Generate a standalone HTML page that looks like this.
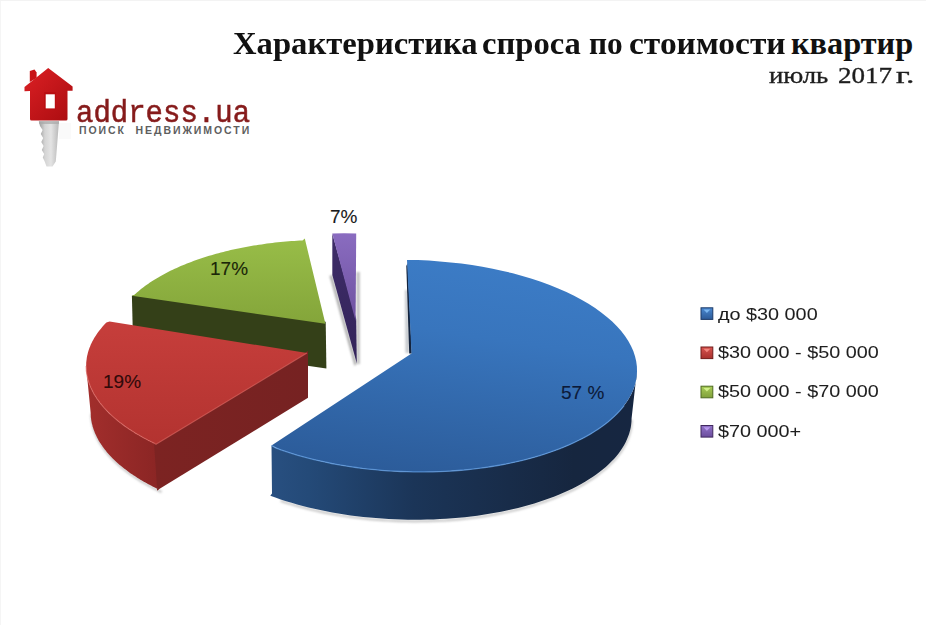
<!DOCTYPE html>
<html><head><meta charset="utf-8">
<style>
html,body{margin:0;padding:0;background:#fff;}
body{width:926px;height:625px;position:relative;overflow:hidden;font-family:"Liberation Sans",sans-serif;}
.abs{position:absolute;white-space:nowrap;}
.ttl{font-family:"Liberation Serif",serif;font-weight:bold;font-size:32.3px;color:#111;top:24.8px;transform-origin:0 0;}
.sub{font-family:"Liberation Serif",serif;font-size:23.6px;color:#1e1e1e;-webkit-text-stroke:0.35px #1e1e1e;top:62.3px;transform-origin:0 0;}
#logo-t{font-family:"Liberation Mono",monospace;font-weight:normal;-webkit-text-stroke:0.5px #861b1b;font-size:29px;color:#861b1b;left:76px;top:95.5px;transform:scaleY(1.1);transform-origin:0 0;}
#logo-s{font-family:"Liberation Sans",sans-serif;font-weight:bold;font-size:10.5px;color:#5e5e5e;left:79px;top:124px;letter-spacing:1.93px;}
.lab{font-size:19px;color:#1a1a1a;-webkit-text-stroke:0.3px currentColor;}
.leg{font-size:16.8px;color:#1e1e1e;-webkit-text-stroke:0.05px #1e1e1e;left:717.5px;letter-spacing:0px;transform:scaleX(1.18);transform-origin:0 0;}
.sw{position:absolute;left:700.5px;width:12px;height:12.5px;box-sizing:border-box;border:1px solid rgba(0,0,0,0.35);}
</style></head><body>
<svg class="abs" style="left:0;top:0" width="926" height="625" viewBox="0 0 926 625">

<defs>
 <filter id="blur1" x="-50%" y="-10%" width="200%" height="120%"><feGaussianBlur stdDeviation="1.2"/></filter>
 <filter id="blur2" x="-10%" y="-10%" width="120%" height="120%"><feGaussianBlur stdDeviation="1.3"/></filter>
 <linearGradient id="gBlueTop" x1="0.6" y1="0" x2="0.35" y2="1">
  <stop offset="0" stop-color="#3c7cc6"/><stop offset="0.35" stop-color="#3875bd"/><stop offset="1" stop-color="#2c5c9a"/>
 </linearGradient>
 <linearGradient id="gBlueRim" x1="272" y1="0" x2="635" y2="0" gradientUnits="userSpaceOnUse">
  <stop offset="0" stop-color="#284f80"/><stop offset="0.1" stop-color="#244a78"/><stop offset="0.39" stop-color="#1b3558"/><stop offset="0.83" stop-color="#16263f"/><stop offset="1" stop-color="#162641"/>
 </linearGradient>
 <linearGradient id="gRedTop" x1="0" y1="0" x2="0" y2="1">
  <stop offset="0" stop-color="#c63e3b"/><stop offset="1" stop-color="#b33330"/>
 </linearGradient>
 <linearGradient id="gRedRim" x1="87" y1="0" x2="160" y2="0" gradientUnits="userSpaceOnUse">
  <stop offset="0" stop-color="#a22e2c"/><stop offset="1" stop-color="#8a2524"/>
 </linearGradient>
 <linearGradient id="gRedCut" x1="157" y1="0" x2="308" y2="0" gradientUnits="userSpaceOnUse">
  <stop offset="0" stop-color="#7c2322"/><stop offset="1" stop-color="#762222"/>
 </linearGradient>
 <linearGradient id="gPurpleCut" x1="0" y1="0" x2="0" y2="1">
  <stop offset="0" stop-color="#3e2c68"/><stop offset="1" stop-color="#33245a"/>
 </linearGradient>
 <linearGradient id="gGreenTop" x1="0" y1="0" x2="0" y2="1">
  <stop offset="0" stop-color="#98bd48"/><stop offset="1" stop-color="#84a53a"/>
 </linearGradient>
 <linearGradient id="gPurpleTop" x1="0" y1="0" x2="0" y2="1">
  <stop offset="0" stop-color="#8a6cc0"/><stop offset="1" stop-color="#6e52a0"/>
 </linearGradient>
</defs>
<polygon points="131.9,295.7 137.9,294.5 325.7,321.8 326.4,368.4 133.0,340.5" fill="#344018" />
<polygon points="131.9,295.7 134.4,294.8 135.6,293.7 136.9,292.5 138.2,291.4 139.6,290.3 141.0,289.1 142.4,288.0 143.8,286.9 145.3,285.8 146.8,284.7 148.4,283.7 149.9,282.6 151.5,281.5 153.1,280.5 154.8,279.5 156.5,278.4 158.2,277.4 159.9,276.4 161.7,275.4 163.5,274.4 165.3,273.5 167.1,272.5 169.0,271.6 170.9,270.6 172.8,269.7 174.7,268.8 176.7,267.9 178.7,267.0 180.7,266.1 182.8,265.2 184.8,264.4 186.9,263.5 189.1,262.7 191.2,261.9 193.4,261.1 195.5,260.3 197.7,259.5 200.0,258.8 202.2,258.0 204.5,257.3 206.8,256.6 209.1,255.8 211.4,255.2 213.8,254.5 216.1,253.8 218.5,253.2 220.9,252.5 223.4,251.9 225.8,251.3 228.3,250.7 230.7,250.1 233.2,249.6 235.7,249.0 238.3,248.5 240.8,248.0 243.3,247.4 245.9,247.0 248.5,246.5 251.1,246.0 253.7,245.6 256.3,245.2 259.0,244.8 261.6,244.4 264.3,244.0 266.9,243.6 269.6,243.3 272.3,242.9 275.0,242.6 277.7,242.3 280.5,242.0 283.2,241.8 285.9,241.5 288.7,241.3 291.4,241.1 294.2,240.9 296.9,240.7 299.7,240.5 302.5,240.4 304.8,238.6 325.4,323.8" fill="url(#gGreenTop)" />
<polygon points="329.5,276.0 332.3,275.0 356.8,363.4 354.5,366.0" fill="#b0b0b0" filter="url(#blur1)"/>
<polygon points="356.5,272.0 359.8,272.0 359.8,364.0 356.8,364.0" fill="#c0c0c0" filter="url(#blur1)"/>
<polygon points="332.3,233.5 356.2,319.0 356.8,363.4 332.3,275.0" fill="url(#gPurpleCut)" />
<polygon points="332.3,233.5 344.0,233.2 356.2,233.5 355.6,321.0" fill="url(#gPurpleTop)" />
<polyline points="91.4,413.8 91.5,414.9 91.5,416.0 91.6,417.1 91.6,418.2 91.7,419.2 91.9,420.3 92.0,421.4 92.2,422.5 92.4,423.6 92.6,424.7 92.9,425.8 93.2,426.8 93.4,427.9 93.8,429.0 94.1,430.1 94.5,431.2 94.9,432.2 95.3,433.3 95.7,434.4 96.2,435.5 96.7,436.5 97.2,437.6 97.7,438.7 98.3,439.8 98.8,440.8 99.4,441.9 100.0,442.9 100.7,444.0 101.4,445.0 102.0,446.1 102.8,447.1 103.5,448.2 104.3,449.2 105.0,450.3 105.8,451.3 106.7,452.3 107.5,453.4 108.4,454.4 109.3,455.4 110.2,456.4 111.1,457.4 112.1,458.5 113.0,459.5 114.0,460.5 115.1,461.5 116.1,462.4 117.2,463.4 118.3,464.4 119.4,465.4 120.5,466.4 121.6,467.3 122.8,468.3 124.0,469.2 125.2,470.2 126.4,471.1 127.7,472.1 128.9,473.0 130.2,474.0 131.5,474.9 132.9,475.8 134.2,476.7 135.6,477.6 137.0,478.5 138.4,479.4 139.8,480.3 141.2,481.2 142.7,482.0 144.2,482.9 145.7,483.8 147.2,484.6 148.7,485.5 150.3,486.3 151.8,487.1 153.4,488.0 155.0,488.8 156.6,489.6 158.3,490.4 159.9,491.2 161.6,492.0" fill="none" stroke="#a0a0a0" stroke-width="2.2" stroke-opacity="0.6" stroke-linejoin="round" filter="url(#blur2)"/>
<polygon points="86.1,366.0 86.2,367.1 86.2,368.2 86.3,369.3 86.3,370.4 86.4,371.4 86.6,372.5 86.7,373.6 86.9,374.7 87.1,375.8 87.3,376.9 87.6,378.0 87.9,379.0 88.1,380.1 88.5,381.2 88.8,382.3 89.2,383.4 89.6,384.4 90.0,385.5 90.4,386.6 90.9,387.7 91.4,388.7 91.9,389.8 92.4,390.9 93.0,392.0 93.5,393.0 94.1,394.1 94.7,395.1 95.4,396.2 96.1,397.2 96.7,398.3 97.5,399.3 98.2,400.4 99.0,401.4 99.7,402.5 100.5,403.5 101.4,404.5 102.2,405.6 103.1,406.6 104.0,407.6 104.9,408.6 105.8,409.6 106.8,410.7 107.7,411.7 108.7,412.7 109.8,413.7 110.8,414.6 111.9,415.6 113.0,416.6 114.1,417.6 115.2,418.6 116.3,419.5 117.5,420.5 118.7,421.4 119.9,422.4 121.1,423.3 122.4,424.3 123.6,425.2 124.9,426.2 126.2,427.1 127.6,428.0 128.9,428.9 130.3,429.8 131.7,430.7 133.1,431.6 134.5,432.5 135.9,433.4 137.4,434.2 138.9,435.1 140.4,436.0 141.9,436.8 143.4,437.7 145.0,438.5 146.5,439.3 148.1,440.2 149.7,441.0 151.3,441.8 153.0,442.6 154.6,443.4 157.0,444.3 157.0,490.6 159.1,489.7 157.5,488.9 155.8,488.1 154.2,487.3 152.6,486.5 151.0,485.6 149.5,484.8 147.9,484.0 146.4,483.1 144.9,482.3 143.4,481.4 141.9,480.5 140.4,479.7 139.0,478.8 137.6,477.9 136.2,477.0 134.8,476.1 133.4,475.2 132.1,474.3 130.7,473.4 129.4,472.5 128.1,471.5 126.9,470.6 125.6,469.6 124.4,468.7 123.2,467.7 122.0,466.8 120.8,465.8 119.7,464.9 118.6,463.9 117.5,462.9 116.4,461.9 115.3,460.9 114.3,460.0 113.2,459.0 112.2,458.0 111.3,457.0 110.3,455.9 109.4,454.9 108.5,453.9 107.6,452.9 106.7,451.9 105.9,450.8 105.0,449.8 104.2,448.8 103.5,447.7 102.7,446.7 102.0,445.6 101.2,444.6 100.6,443.5 99.9,442.5 99.2,441.4 98.6,440.4 98.0,439.3 97.5,438.3 96.9,437.2 96.4,436.1 95.9,435.0 95.4,434.0 94.9,432.9 94.5,431.8 94.1,430.7 93.7,429.7 93.3,428.6 93.0,427.5 92.6,426.4 92.4,425.3 92.1,424.3 91.8,423.2 91.6,422.1 91.4,421.0 91.2,419.9 91.1,418.8 90.9,417.7 90.8,416.7 90.8,415.6 90.7,414.5 90.7,413.4 90.6,412.3" fill="url(#gRedRim)" />
<polygon points="154.0,443.3 308.0,351.1 308.0,397.8 157.2,490.2" fill="url(#gRedCut)" />
<polygon points="109.6,321.5 106.4,322.6 104.9,324.1 103.5,325.6 102.2,327.1 100.9,328.7 99.6,330.2 98.4,331.8 97.3,333.3 96.2,334.9 95.2,336.5 94.2,338.1 93.3,339.7 92.4,341.3 91.6,342.9 90.8,344.6 90.2,346.2 89.5,347.8 88.9,349.5 88.4,351.1 87.9,352.8 87.5,354.5 87.1,356.1 86.8,357.8 86.6,359.5 86.4,361.1 86.2,362.8 86.2,364.5 86.1,366.2 86.2,367.8 86.3,369.5 86.4,371.2 86.6,372.9 86.9,374.6 87.2,376.3 87.6,377.9 88.0,379.6 88.5,381.3 89.0,383.0 89.6,384.6 90.3,386.3 91.0,387.9 91.8,389.6 92.6,391.3 93.5,392.9 94.4,394.5 95.4,396.2 96.4,397.8 97.5,399.4 98.7,401.0 99.9,402.6 101.1,404.2 102.4,405.8 103.8,407.4 105.2,409.0 106.7,410.5 108.2,412.1 109.8,413.6 111.4,415.2 113.0,416.7 114.8,418.2 116.5,419.7 118.4,421.2 120.2,422.7 122.1,424.1 124.1,425.6 126.1,427.0 128.2,428.4 130.3,429.8 132.4,431.2 134.6,432.6 136.9,433.9 139.1,435.3 141.5,436.6 143.8,437.9 146.2,439.2 148.7,440.4 151.2,441.7 153.7,442.9 156.0,444.3 307.0,353.1" fill="url(#gRedTop)" />
<polygon points="405.0,290.0 407.5,290.0 409.5,353.0 405.5,353.0" fill="#c4c8cc" filter="url(#blur1)"/>
<polygon points="406.3,266.0 407.6,263.0 411.8,353.5 409.2,353.5" fill="#14243e" />
<polyline points="631.6,419.7 631.5,422.7 631.2,425.7 630.8,428.7 630.1,431.7 629.3,434.7 628.3,437.6 627.1,440.6 625.8,443.5 624.2,446.4 622.5,449.2 620.7,452.1 618.6,454.9 616.4,457.7 614.0,460.4 611.4,463.1 608.7,465.8 605.8,468.4 602.7,471.0 599.5,473.5 596.2,476.0 592.6,478.5 589.0,480.8 585.1,483.2 581.2,485.5 577.1,487.7 572.8,489.9 568.4,492.0 563.9,494.0 559.3,496.0 554.5,497.9 549.6,499.8 544.6,501.6 539.5,503.3 534.3,504.9 529.0,506.5 523.6,508.0 518.1,509.4 512.4,510.7 506.8,512.0 501.0,513.2 495.1,514.3 489.2,515.3 483.2,516.3 477.2,517.2 471.0,518.0 464.9,518.7 458.7,519.3 452.4,519.8 446.1,520.3 439.8,520.6 433.5,520.9 427.1,521.1 420.7,521.2 414.3,521.3 407.9,521.2 401.5,521.1 395.1,520.8 388.7,520.5 382.3,520.1 375.9,519.6 369.6,519.1 363.3,518.4 357.0,517.7 350.7,516.9 344.5,516.0 338.4,515.0 332.3,513.9 326.3,512.8 320.3,511.6 314.4,510.3 308.6,508.9 302.8,507.4 297.2,505.9 291.6,504.3 286.1,502.7 280.7,500.9" fill="none" stroke="#a0a0a0" stroke-width="2.2" stroke-opacity="0.6" stroke-linejoin="round" filter="url(#blur2)"/>
<polygon points="637.0,370.4 637.0,373.4 636.7,376.4 636.2,379.4 635.6,382.4 634.8,385.4 633.8,388.3 632.6,391.2 631.3,394.2 629.7,397.0 628.0,399.9 626.1,402.7 624.1,405.6 621.9,408.3 619.5,411.1 616.9,413.8 614.2,416.4 611.3,419.1 608.2,421.7 605.0,424.2 601.6,426.7 598.1,429.1 594.4,431.5 590.6,433.9 586.7,436.1 582.5,438.4 578.3,440.5 573.9,442.6 569.4,444.7 564.8,446.7 560.0,448.6 555.1,450.4 550.1,452.2 545.0,453.9 539.8,455.6 534.5,457.2 529.1,458.7 523.5,460.1 517.9,461.4 512.2,462.7 506.5,463.9 500.6,465.0 494.7,466.0 488.7,467.0 482.6,467.8 476.5,468.6 470.4,469.3 464.2,470.0 457.9,470.5 451.6,471.0 445.3,471.3 438.9,471.6 432.6,471.8 426.2,471.9 419.8,471.9 413.4,471.9 407.0,471.7 400.5,471.5 394.1,471.2 387.8,470.8 381.4,470.3 375.1,469.7 368.7,469.1 362.5,468.4 356.2,467.5 350.0,466.6 343.9,465.7 337.8,464.6 331.8,463.5 325.8,462.2 319.9,460.9 314.1,459.6 308.3,458.1 302.7,456.6 297.1,455.0 291.6,453.3 286.2,451.6 280.9,449.8 275.7,447.9 271.5,445.5 272.0,493.4 270.3,495.7 275.4,497.6 280.7,499.4 286.1,501.2 291.6,502.8 297.2,504.4 302.8,505.9 308.6,507.4 314.4,508.8 320.3,510.1 326.3,511.3 332.3,512.4 338.4,513.5 344.5,514.5 350.7,515.4 357.0,516.2 363.3,516.9 369.6,517.6 375.9,518.1 382.3,518.6 388.7,519.0 395.1,519.3 401.5,519.6 407.9,519.7 414.3,519.8 420.7,519.7 427.1,519.6 433.5,519.4 439.8,519.1 446.1,518.8 452.4,518.3 458.7,517.8 464.9,517.2 471.0,516.5 477.2,515.7 483.2,514.8 489.2,513.8 495.1,512.8 501.0,511.7 506.8,510.5 512.4,509.2 518.1,507.9 523.6,506.5 529.0,505.0 534.3,503.4 539.5,501.8 544.6,500.1 549.6,498.3 554.5,496.4 559.3,494.5 563.9,492.5 568.4,490.5 572.8,488.4 577.1,486.2 581.2,484.0 585.1,481.7 589.0,479.3 592.6,477.0 596.2,474.5 599.5,472.0 602.7,469.5 605.8,466.9 608.7,464.3 611.4,461.6 614.0,458.9 616.4,456.2 618.6,453.4 620.7,450.6 622.5,447.7 624.2,444.9 625.8,442.0 627.1,439.1 628.3,436.1 629.3,433.2 630.1,430.2 630.8,427.2 631.2,424.2 631.5,421.2 631.6,418.2" fill="url(#gBlueRim)" />
<polygon points="407.0,260.0 417.9,260.1 428.9,260.6 439.8,261.4 450.6,262.4 461.3,263.6 472.0,265.1 482.4,266.8 492.7,268.7 502.9,270.9 512.8,273.3 522.4,275.9 531.8,278.7 540.9,281.8 549.7,285.0 558.2,288.4 566.4,292.0 574.1,295.8 581.5,299.7 588.5,303.8 595.1,308.1 601.2,312.5 606.9,317.0 612.2,321.6 616.9,326.3 621.2,331.1 625.0,336.0 628.3,341.0 631.0,346.0 633.3,351.1 635.0,356.2 636.2,361.3 636.9,366.5 637.0,371.6 636.6,376.8 635.7,381.9 634.3,386.9 632.3,391.9 629.8,396.9 626.8,401.8 623.3,406.6 619.3,411.3 614.8,415.9 609.8,420.4 604.3,424.7 598.4,428.9 592.1,433.0 585.3,436.9 578.1,440.6 570.6,444.2 562.6,447.6 554.3,450.7 545.7,453.7 536.7,456.5 527.5,459.1 518.0,461.4 508.2,463.5 498.2,465.4 488.0,467.1 477.6,468.5 467.0,469.7 456.4,470.6 445.6,471.3 434.7,471.7 423.8,471.9 412.8,471.9 401.9,471.6 391.0,471.0 380.1,470.2 369.3,469.2 358.6,467.9 348.0,466.3 337.5,464.6 327.3,462.6 317.2,460.3 307.4,457.9 297.8,455.2 288.4,452.3 279.4,449.2 271.5,445.5 411.5,353.5" fill="url(#gBlueTop)" />
<polyline points="624.1,405.6 621.9,408.3 619.5,411.1 616.9,413.8 614.2,416.4 611.3,419.1 608.2,421.7 605.0,424.2 601.6,426.7 598.1,429.1 594.4,431.5 590.6,433.9 586.7,436.1 582.5,438.4 578.3,440.5 573.9,442.6 569.4,444.7 564.8,446.7 560.0,448.6 555.1,450.4 550.1,452.2 545.0,453.9 539.8,455.6 534.5,457.2 529.1,458.7 523.5,460.1 517.9,461.4 512.2,462.7 506.5,463.9 500.6,465.0 494.7,466.0 488.7,467.0 482.6,467.8 476.5,468.6 470.4,469.3 464.2,470.0 457.9,470.5 451.6,471.0 445.3,471.3 438.9,471.6 432.6,471.8 426.2,471.9 419.8,471.9 413.4,471.9 407.0,471.7 400.5,471.5 394.1,471.2 387.8,470.8 381.4,470.3 375.1,469.7 368.7,469.1 362.5,468.4 356.2,467.5 350.0,466.6 343.9,465.7 337.8,464.6 331.8,463.5 325.8,462.2 319.9,460.9 314.1,459.6 308.3,458.1 302.7,456.6 297.1,455.0 291.6,453.3 286.2,451.6 280.9,449.8 275.7,447.9 271.5,445.5" fill="none" stroke="#62a0e6" stroke-width="1.3" stroke-opacity="0.7" stroke-linejoin="round"/>
<polyline points="86.1,366.0 86.2,367.1 86.2,368.2 86.3,369.3 86.3,370.4 86.4,371.4 86.6,372.5 86.7,373.6 86.9,374.7 87.1,375.8 87.3,376.9 87.6,378.0 87.9,379.0 88.1,380.1 88.5,381.2 88.8,382.3 89.2,383.4 89.6,384.4 90.0,385.5 90.4,386.6 90.9,387.7 91.4,388.7 91.9,389.8 92.4,390.9 93.0,392.0 93.5,393.0 94.1,394.1 94.7,395.1 95.4,396.2 96.1,397.2 96.7,398.3 97.5,399.3 98.2,400.4 99.0,401.4 99.7,402.5 100.5,403.5 101.4,404.5 102.2,405.6 103.1,406.6 104.0,407.6 104.9,408.6 105.8,409.6 106.8,410.7 107.7,411.7 108.7,412.7 109.8,413.7 110.8,414.6 111.9,415.6 113.0,416.6 114.1,417.6 115.2,418.6 116.3,419.5 117.5,420.5 118.7,421.4 119.9,422.4 121.1,423.3 122.4,424.3 123.6,425.2 124.9,426.2 126.2,427.1 127.6,428.0 128.9,428.9 130.3,429.8 131.7,430.7 133.1,431.6 134.5,432.5 135.9,433.4 137.4,434.2 138.9,435.1 140.4,436.0 141.9,436.8 143.4,437.7 145.0,438.5 146.5,439.3 148.1,440.2 149.7,441.0 151.3,441.8 153.0,442.6 154.6,443.4 156.0,444.3 307.0,353.1" fill="none" stroke="#e06a66" stroke-width="1.2" stroke-opacity="0.6" stroke-linejoin="round"/>


<defs>
 <linearGradient id="gHouse" x1="0" y1="0" x2="1" y2="1">
  <stop offset="0" stop-color="#dc2024"/><stop offset="1" stop-color="#aa0c10"/>
 </linearGradient>
 <linearGradient id="gKey" x1="0" y1="0" x2="1" y2="0">
  <stop offset="0" stop-color="#9a9a9a"/><stop offset="0.3" stop-color="#d4d4d4"/><stop offset="0.6" stop-color="#e4e4e4"/><stop offset="1" stop-color="#b8b8b8"/>
 </linearGradient>
</defs>
<rect x="59" y="123" width="12" height="16" fill="#fafafa"/>
<path d="M38.8,121.5 L59,121.5 L55.8,161.5 L52.5,166.5 L46.5,166.5 L44.5,161 L42.8,157.5 L44.2,154 L41.8,150 L43.6,146 L41.3,142 L43.2,138 L40.8,134 L42.6,130 L40,126 Z" fill="url(#gKey)"/>
<rect x="39" y="121" width="20" height="3" fill="#a8a8a8" opacity="0.7"/>
<path d="M29.8,82 L29.8,71 L34.5,69.6 L36.6,72.5 L36.6,78 Z" fill="#c81418"/>
<path d="M48.2,68 L72.6,86.5 L72.6,90.8 L67.5,90.8 L67.5,119 Q67.5,120.5 66,120.5 L31.5,120.5 Q30,120.5 30,119 L30,91 L24.5,91.2 L24.5,87 Z" fill="url(#gHouse)"/>
<rect x="44.2" y="92.2" width="11.6" height="17.2" fill="#b80e12"/>
<rect x="45.7" y="94.3" width="9.1" height="14.1" fill="#ffffff"/>

<g transform="translate(700.5,307.3)"><defs><linearGradient id="sw307" x1="0" y1="0" x2="0" y2="1"><stop offset="0" stop-color="#4a88d0"/><stop offset="1" stop-color="#2c5a98"/></linearGradient></defs><rect x="0.5" y="0.5" width="11.8" height="11.6" fill="url(#sw307)" stroke="#1c3a68" stroke-width="1"/><path d="M3,2.3 H9.8 L6.4,5.8 Z" fill="#8cc8ff" opacity="0.75"/></g>
<g transform="translate(700.5,346.5)"><defs><linearGradient id="sw346" x1="0" y1="0" x2="0" y2="1"><stop offset="0" stop-color="#d85450"/><stop offset="1" stop-color="#a8302c"/></linearGradient></defs><rect x="0.5" y="0.5" width="11.8" height="11.6" fill="url(#sw346)" stroke="#701c1a" stroke-width="1"/><path d="M3,2.3 H9.8 L6.4,5.8 Z" fill="#ff9a90" opacity="0.75"/></g>
<g transform="translate(700.5,385.7)"><defs><linearGradient id="sw385" x1="0" y1="0" x2="0" y2="1"><stop offset="0" stop-color="#a8cc58"/><stop offset="1" stop-color="#80a03a"/></linearGradient></defs><rect x="0.5" y="0.5" width="11.8" height="11.6" fill="url(#sw385)" stroke="#4e6a20" stroke-width="1"/><path d="M3,2.3 H9.8 L6.4,5.8 Z" fill="#e0ff9a" opacity="0.75"/></g>
<g transform="translate(700.5,425.0)"><defs><linearGradient id="sw425" x1="0" y1="0" x2="0" y2="1"><stop offset="0" stop-color="#9274c8"/><stop offset="1" stop-color="#6a4c9c"/></linearGradient></defs><rect x="0.5" y="0.5" width="11.8" height="11.6" fill="url(#sw425)" stroke="#40285e" stroke-width="1"/><path d="M3,2.3 H9.8 L6.4,5.8 Z" fill="#c8a8ff" opacity="0.75"/></g>

</svg>
<div class="abs ttl" style="left:232.8px;transform:scaleX(1.011)">Характеристика</div>
<div class="abs ttl" style="left:482.3px;transform:scaleX(1.01)">спроса</div>
<div class="abs ttl" style="left:588.6px;transform:scaleX(0.97)">по</div>
<div class="abs ttl" style="left:628.8px;transform:scaleX(1.037)">стоимости</div>
<div class="abs ttl" style="left:791px">квартир</div>
<div class="abs sub" style="left:768.5px;transform:scaleX(1.135)">июль</div>
<div class="abs sub" style="left:837.6px;transform:scaleX(1.146)">2017</div>
<div class="abs sub" style="left:895.5px;transform:scaleX(1.42)">г.</div>
<div id="logo-t" class="abs">address.ua</div>
<div id="logo-s" class="abs">ПОИСК&nbsp;&nbsp;НЕДВИЖИМОСТИ</div>
<div class="abs lab" style="left:561px;top:381.8px;color:#0c1a38;-webkit-text-stroke:0.1px">57 %</div>
<div class="abs lab" style="left:103px;top:370.5px;color:#300a0a;-webkit-text-stroke:0.1px">19%</div>
<div class="abs lab" style="left:210px;top:258px;color:#1a2608;-webkit-text-stroke:0.1px">17%</div>
<div class="abs lab" style="left:330px;top:206.2px;-webkit-text-stroke:0.1px">7%</div>
<div class="abs" style="left:0;top:0;width:1px;height:625px;background:#f5f5f5"></div>
<div class="abs" style="left:0;top:0;width:926px;height:1px;background:#f3f3f3"></div>
<div class="abs leg" style="top:304.5px">до $30 000</div>
<div class="abs leg" style="top:343px">$30 000 - $50 000</div>
<div class="abs leg" style="top:382px">$50 000 - $70 000</div>
<div class="abs leg" style="top:422.4px">$70 000+</div>
</body></html>
